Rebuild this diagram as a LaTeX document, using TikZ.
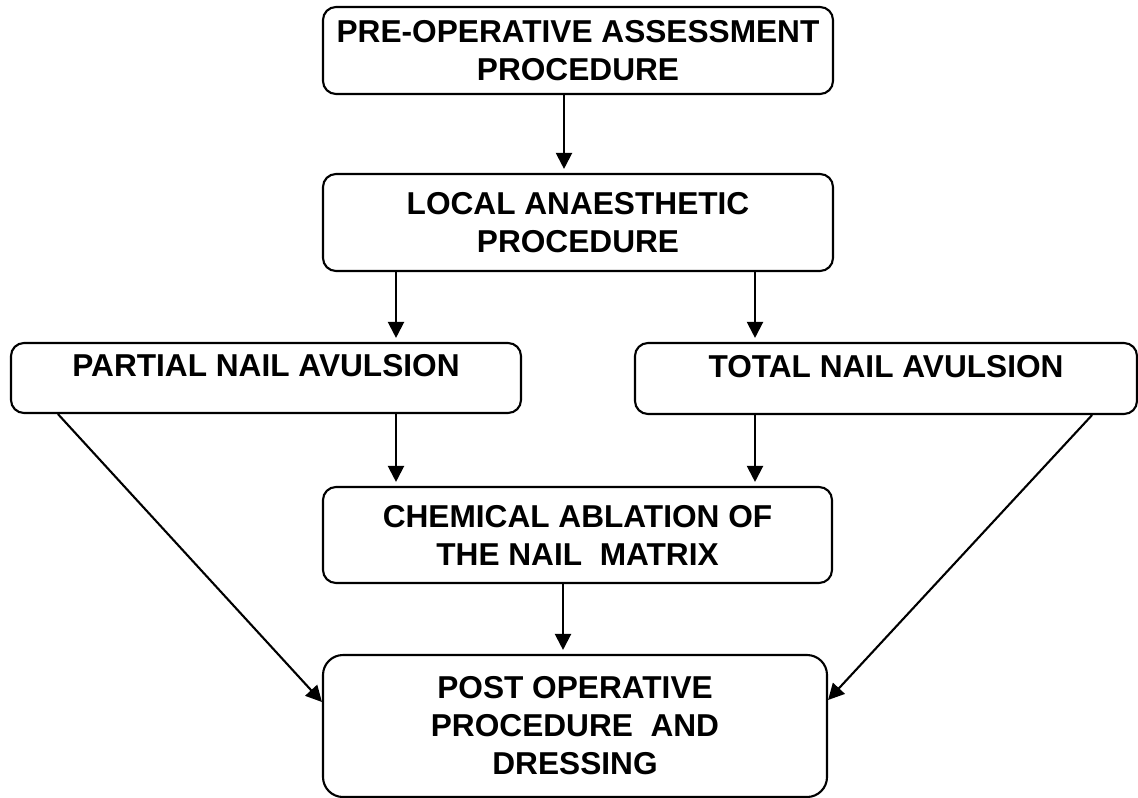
\documentclass[tikz,border=0pt]{standalone}
\usepackage{fontspec}
\newfontfamily\boxfont{Liberation Sans Bold}
\usetikzlibrary{arrows.meta}

\begin{document}
\begin{tikzpicture}[
    box/.style={draw=black, line width=1.2pt, rounded corners=0.26cm, align=center, inner sep=0pt, font=\boxfont\fontsize{18}{21.6}\selectfont},
    onebox/.style={box, text height=0.46cm, text depth=0.51cm},
    arr/.style={-{Triangle[length=0.32cm, width=0.32cm]}, line width=1.2pt, shorten >=0.08cm}
]
    \useasboundingbox (0,0) rectangle (22.76,-15.94);

    \node[box, minimum width=10.2cm, minimum height=1.74cm] (preop) at (11.56,-1.01) {PRE-OPERATIVE ASSESSMENT\\PROCEDURE};
    \node[box, minimum width=10.2cm, minimum height=1.94cm] (local) at (11.56,-4.45) {LOCAL ANAESTHETIC\\PROCEDURE};
    \node[onebox, minimum width=10.2cm, minimum height=1.40cm] (partial) at (5.32,-7.56) {PARTIAL NAIL AVULSION};
    \node[onebox, minimum width=10.04cm, minimum height=1.42cm] (total) at (17.72,-7.57) {TOTAL NAIL AVULSION};
    \node[box, minimum width=10.18cm, minimum height=1.92cm] (chem) at (11.55,-10.70) {CHEMICAL ABLATION OF\\THE NAIL~ MATRIX};
    \node[box, minimum width=10.08cm, minimum height=2.84cm, rounded corners=0.4cm] (post) at (11.50,-14.52) {POST OPERATIVE\\PROCEDURE~ AND\\DRESSING};

    \draw[arr] ([xshift=-0.28cm]preop.south) -- ([xshift=-0.28cm]preop.south |- local.north);
    \draw[arr] ([xshift=-3.64cm]local.south) -- ([xshift=-3.64cm]local.south |- partial.north);
    \draw[arr] ([xshift=3.54cm]local.south) -- ([xshift=3.54cm]local.south |- total.north);
    \draw[arr] ([xshift=2.6cm]partial.south) -- ([xshift=2.6cm]partial.south |- chem.north);
    \draw[arr] ([xshift=-2.62cm]total.south) -- ([xshift=-2.62cm]total.south |- chem.north);
    \draw[arr] ([xshift=-0.29cm]chem.south) -- ([xshift=-0.29cm]chem.south |- post.north);
    \draw[arr, shorten >=0pt] ([xshift=0.96cm]partial.south west) -- ([yshift=0.48cm]post.west);
    \draw[arr, shorten >=0pt] ([xshift=-0.92cm]total.south east) -- ([yshift=0.52cm]post.east);
\end{tikzpicture}
\end{document}
